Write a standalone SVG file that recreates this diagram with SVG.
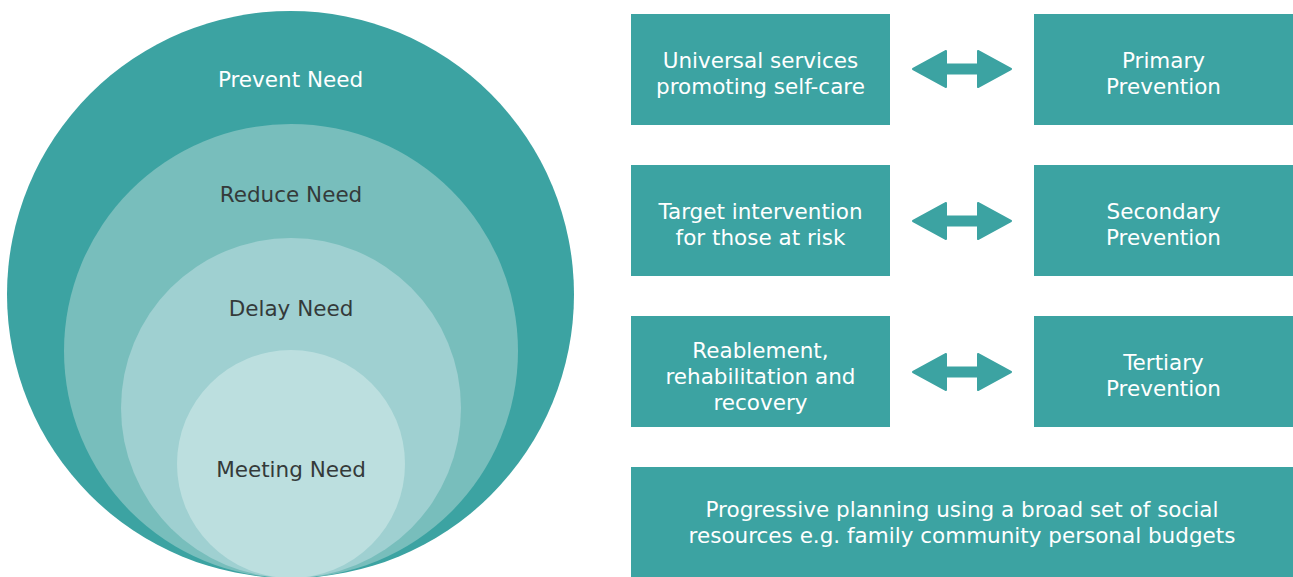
<svg xmlns="http://www.w3.org/2000/svg" width="1293" height="577" viewBox="0 0 1293 577">
  <defs>
    <style>
      .box { fill: #3ca3a2; }
      .lbl { font-family: "DejaVu Sans", "Open Sans", "Liberation Sans", sans-serif; font-size: 21.5px; text-anchor: middle; }
      .light { fill: #ffffff; }
      .dark { fill: #343a3a; }
      .arrow { fill: #3ca3a2; stroke: #3ca3a2; stroke-width: 2; stroke-linejoin: round; }
    </style>
    <path id="dbl-arrow" d="M -49 0 L -16 -18 L -16 -4.5 L 16 -4.5 L 16 -18 L 49 0 L 16 18 L 16 4.5 L -16 4.5 L -16 18 Z"/>
  </defs>

  <rect width="1293" height="577" fill="#ffffff"/>

  <!-- Nested levels of need -->
  <g id="prevent-need">
    <circle cx="290.5" cy="294.5" r="283.5" fill="#3ca3a2"/>
    <text class="lbl light" x="290.5" y="87">Prevent Need</text>
  </g>
  <g id="reduce-need">
    <circle cx="291" cy="351" r="227" fill="#78bebc"/>
    <text class="lbl dark" x="291" y="202">Reduce Need</text>
  </g>
  <g id="delay-need">
    <circle cx="291" cy="408" r="170" fill="#9fd0d1"/>
    <text class="lbl dark" x="291" y="316">Delay Need</text>
  </g>
  <g id="meeting-need">
    <circle cx="291" cy="464" r="114" fill="#bcdfdf"/>
    <text class="lbl dark" x="291" y="477">Meeting Need</text>
  </g>

  <!-- Service boxes -->
  <g id="universal-services">
    <rect class="box" x="631" y="14" width="259" height="111"/>
    <text class="lbl light" x="760.5" y="68">Universal services</text>
    <text class="lbl light" x="760.5" y="94">promoting self-care</text>
  </g>
  <g id="primary-prevention">
    <rect class="box" x="1034" y="14" width="259" height="111"/>
    <text class="lbl light" x="1163.5" y="68">Primary</text>
    <text class="lbl light" x="1163.5" y="94">Prevention</text>
  </g>
  <g id="target-intervention">
    <rect class="box" x="631" y="165" width="259" height="111"/>
    <text class="lbl light" x="760.5" y="219">Target intervention</text>
    <text class="lbl light" x="760.5" y="245">for those at risk</text>
  </g>
  <g id="secondary-prevention">
    <rect class="box" x="1034" y="165" width="259" height="111"/>
    <text class="lbl light" x="1163.5" y="219">Secondary</text>
    <text class="lbl light" x="1163.5" y="245">Prevention</text>
  </g>
  <g id="reablement">
    <rect class="box" x="631" y="316" width="259" height="111"/>
    <text class="lbl light" x="760.5" y="358">Reablement,</text>
    <text class="lbl light" x="760.5" y="384">rehabilitation and</text>
    <text class="lbl light" x="760.5" y="410">recovery</text>
  </g>
  <g id="tertiary-prevention">
    <rect class="box" x="1034" y="316" width="259" height="111"/>
    <text class="lbl light" x="1163.5" y="370">Tertiary</text>
    <text class="lbl light" x="1163.5" y="396">Prevention</text>
  </g>
  <g id="progressive-planning">
    <rect class="box" x="631" y="467" width="662" height="110"/>
    <text class="lbl light" x="962" y="517">Progressive planning using a broad set of social</text>
    <text class="lbl light" x="962" y="543">resources e.g. family community personal budgets</text>
  </g>

  <!-- Two-way links between services and prevention levels -->
  <g id="connectors">
    <use href="#dbl-arrow" class="arrow" x="962" y="69"/>
    <use href="#dbl-arrow" class="arrow" x="962" y="221"/>
    <use href="#dbl-arrow" class="arrow" x="962" y="372"/>
  </g>
</svg>
